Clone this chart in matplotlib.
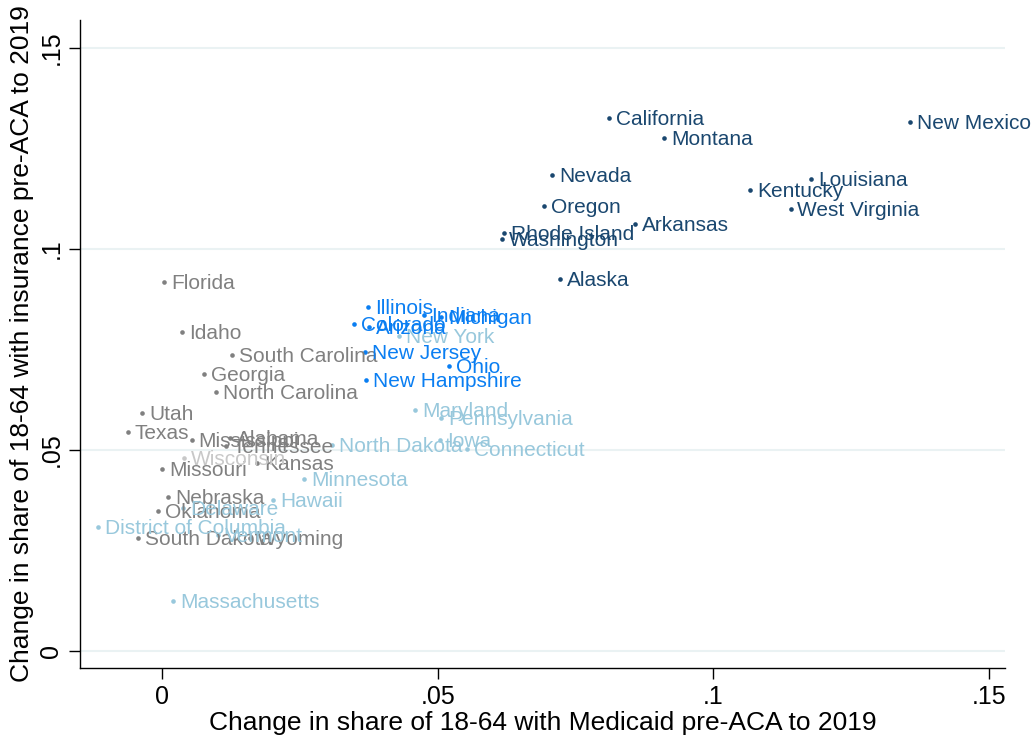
import matplotlib

matplotlib.use("Agg")
import matplotlib.pyplot as plt

plt.rcParams["font.family"] = ["Liberation Sans", "DejaVu Sans"]

# change in Medicaid share (x) and insured share (y), grouped by marker colour
navy_states = ["California", "Montana", "New Mexico", "Nevada", "Louisiana", "Kentucky",
               "West Virginia", "Oregon", "Arkansas", "Rhode Island", "Washington", "Alaska"]
navy_x = [0.0811, 0.0911, 0.1356, 0.0708, 0.1178, 0.1067, 0.1140, 0.0693, 0.0858, 0.0621, 0.0617, 0.0721]
navy_y = [0.1326, 0.1276, 0.1316, 0.1184, 0.1174, 0.1147, 0.1100, 0.1107, 0.1062, 0.1040, 0.1025, 0.0926]

blue_states = ["Illinois", "Colorado", "Arizona", "Indiana", "Michigan", "New Jersey", "Ohio", "New Hampshire"]
blue_x = [0.0374, 0.0349, 0.0376, 0.0476, 0.0506, 0.0368, 0.0521, 0.0370]
blue_y = [0.0856, 0.0814, 0.0806, 0.0836, 0.0831, 0.0744, 0.0709, 0.0674]

light_states = ["New York", "Maryland", "Pennsylvania", "North Dakota", "Iowa", "Connecticut",
                "Minnesota", "Hawaii", "Delaware", "District of Columbia", "Vermont", "Massachusetts"]
light_x = [0.0430, 0.0459, 0.0506, 0.0309, 0.0505, 0.0553, 0.0258, 0.0201, 0.0038, -0.0116, 0.0102, 0.0020]
light_y = [0.0784, 0.0600, 0.0580, 0.0513, 0.0525, 0.0503, 0.0428, 0.0376, 0.0356, 0.0309, 0.0289, 0.0124]

gray_states = ["Florida", "Idaho", "South Carolina", "Georgia", "North Carolina", "Utah", "Texas",
               "Mississippi", "Alabama", "Tennessee", "Missouri", "Kansas", "Nebraska", "Oklahoma",
               "South Dakota", "Wyoming"]
gray_x = [0.0004, 0.0036, 0.0127, 0.0076, 0.0098, -0.0036, -0.0062, 0.0054, 0.0123, 0.0116,
          0.0000, 0.0172, 0.0011, -0.0007, -0.0044, 0.0160]
gray_y = [0.0918, 0.0794, 0.0736, 0.0689, 0.0644, 0.0592, 0.0545, 0.0525, 0.0530, 0.0510,
          0.0453, 0.0468, 0.0383, 0.0348, 0.0281, 0.0281]

ltgray_states = ["Wisconsin"]
ltgray_x = [0.0040]
ltgray_y = [0.0480]

groups = [
    (gray_states, gray_x, gray_y, "#808080"),
    (ltgray_states, ltgray_x, ltgray_y, "#c8c8c8"),
    (light_states, light_x, light_y, "#98c8dc"),
    (blue_states, blue_x, blue_y, "#0a7ef2"),
    (navy_states, navy_x, navy_y, "#1a476f"),
]

fig = plt.figure(figsize=(10.32, 7.40), dpi=100)
ax = fig.add_axes([80 / 1032, 72 / 740, 925 / 1032, 648 / 740])

for names, xs, ys, color in groups:
    ax.scatter(xs, ys, s=11, color=color, zorder=3, linewidths=0)
    for name, x, y in zip(names, xs, ys):
        ax.annotate(name, (x, y), xytext=(5, -1), textcoords="offset points",
                    ha="left", va="center", fontsize=15, color=color, zorder=4)

ax.set_xlim(-0.01487, 0.1529)
ax.set_ylim(-0.00423, 0.15697)

ticks = [0, 0.05, 0.1, 0.15]
tick_labels = ["0", ".05", ".1", ".15"]
ax.set_xticks(ticks)
ax.set_xticklabels(tick_labels)
ax.set_yticks(ticks)
ax.set_yticklabels(tick_labels, rotation=90, va="center")
ax.tick_params(axis="both", direction="out", length=8, width=1, labelsize=18, pad=4)

ax.grid(axis="y", color="#eaf2f3", linewidth=1.5, zorder=0)
ax.set_axisbelow(True)
for side in ["top", "right"]:
    ax.spines[side].set_visible(False)
for side in ["left", "bottom"]:
    ax.spines[side].set_linewidth(1)

ax.set_xlabel("Change in share of 18-64 with Medicaid pre-ACA to 2019", fontsize=19, labelpad=2)
ax.set_ylabel("Change in share of 18-64 with insurance pre-ACA to 2019", fontsize=19, labelpad=4)

fig.savefig("out.png", dpi=100)
